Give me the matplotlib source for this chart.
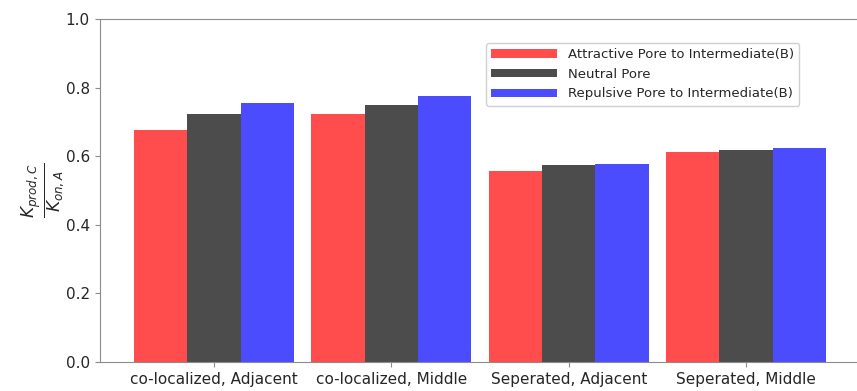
import matplotlib
matplotlib.use("Agg")
import matplotlib.pyplot as plt
import numpy as np

categories = ["co-localized, Adjacent", "co-localized, Middle",
              "Seperated, Adjacent", "Seperated, Middle"]
attractive = [0.675, 0.722, 0.557, 0.612]
neutral = [0.722, 0.748, 0.575, 0.617]
repulsive = [0.755, 0.775, 0.577, 0.623]
series_labels = ["Attractive Pore to Intermediate(B)", "Neutral Pore",
                 "Repulsive Pore to Intermediate(B)"]
series_colors = ["red", "black", "blue"]
yticks = [0.0, 0.2, 0.4, 0.6, 0.8, 1.0]

plt.rcParams["font.family"] = "DejaVu Sans"
text_color = "#262626"
spine_color = "#8c8c8c"

fig = plt.figure(figsize=(8.57, 3.91), dpi=100)
ax = fig.add_axes([99.5 / 857, 29 / 391, 761 / 857, 343 / 391])

x = np.arange(len(categories))
width = 0.3
for i, (vals, lab, col) in enumerate(zip([attractive, neutral, repulsive],
                                         series_labels, series_colors)):
    ax.bar(x + (i - 1) * width, vals, width, color=col, alpha=0.7, label=lab)

ax.set_ylim(0, 1.0)
ax.set_yticks(yticks)
ax.set_yticklabels([f"{t:.1f}" for t in yticks])
ax.set_xticks(x)
ax.set_xticklabels(categories)
ax.tick_params(labelsize=11, colors=spine_color, labelcolor=text_color)
for s in ax.spines.values():
    s.set_color(spine_color)

ax.set_ylabel(r"$\frac{K_{prod,C}}{K_{on,A}}$", fontsize=17.5, color=text_color,
              labelpad=-1.0)

leg = ax.legend(loc="upper left", bbox_to_anchor=(0.5079, 0.930),
                borderaxespad=0, fontsize=9.5,
                handlelength=5.0, handleheight=0.6, labelspacing=0.5,
                framealpha=1.0, edgecolor="#d0d0d0")
for t in leg.get_texts():
    t.set_color(text_color)

fig.savefig("out.png", dpi=100)
